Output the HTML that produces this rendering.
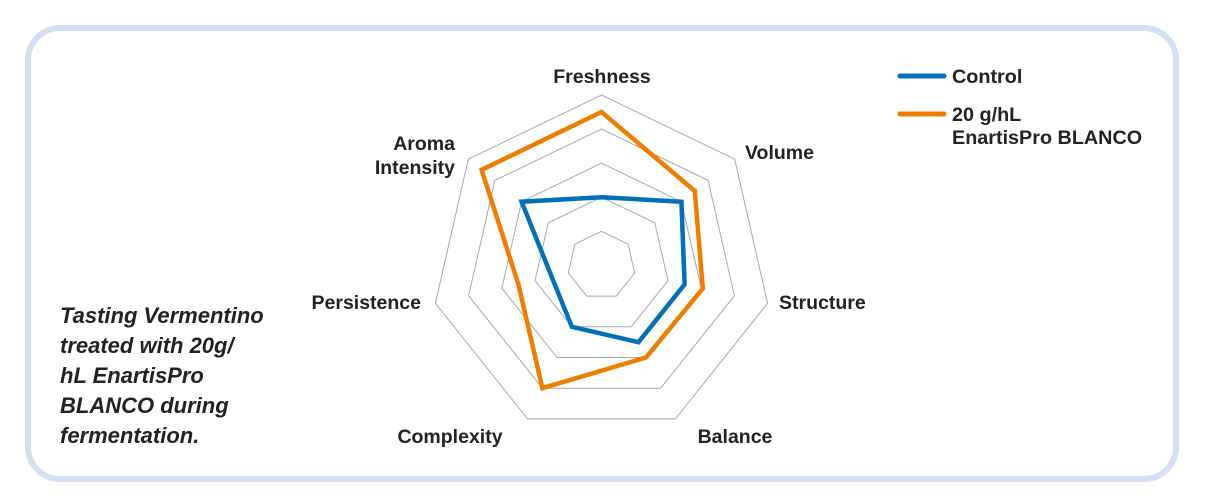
<!DOCTYPE html>
<html><head><style>
body{margin:0;background:#fff;width:1206px;height:501px;overflow:hidden}
svg{display:block}
text{font-family:"Liberation Sans",sans-serif;fill:#222;font-weight:600}
</style></head><body>
<svg width="1206" height="501" viewBox="0 0 1206 501">
<rect x="28" y="28" width="1148" height="451" rx="32" fill="#fff" stroke="#d3e0f2" stroke-width="6"/>
<g id="g"></g>
<g font-size="19.5">
<text x="602" y="83" text-anchor="middle">Freshness</text>
<text x="745" y="159">Volume</text>
<text x="779" y="309">Structure</text>
<text x="735" y="443" text-anchor="middle">Balance</text>
<text x="450" y="443" text-anchor="middle">Complexity</text>
<text x="421" y="309" text-anchor="end">Persistence</text>
<text x="455" y="150" text-anchor="end">Aroma</text>
<text x="455" y="174" text-anchor="end">Intensity</text>
</g>
<line x1="900" y1="76" x2="944" y2="76" stroke="#0070b8" stroke-width="5" stroke-linecap="round"/>
<line x1="900" y1="114" x2="944" y2="114" stroke="#ee7d00" stroke-width="5" stroke-linecap="round"/>
<g font-size="19.8">
<text x="952" y="83">Control</text>
<text x="952" y="121">20 g/hL</text>
<text x="952" y="144">EnartisPro BLANCO</text>
</g>
<g font-size="22" font-style="italic">
<text x="60" y="323">Tasting Vermentino</text>
<text x="60" y="353">treated with 20g/</text>
<text x="60" y="383">hL EnartisPro</text>
<text x="60" y="413">BLANCO during</text>
<text x="60" y="443">fermentation.</text>
</g>
</svg>
<script>
var cx=601.5,cy=265.4,R=170.4,g=document.getElementById('g'),ns='http://www.w3.org/2000/svg';
function pts(vals){return vals.map(function(v,k){var a=(-90+k*360/7)*Math.PI/180;var r=v/5*R;return (cx+r*Math.cos(a)).toFixed(1)+','+(cy+r*Math.sin(a)).toFixed(1)}).join(' ')}
for(var i=1;i<=5;i++){var p=document.createElementNS(ns,'polygon');p.setAttribute('points',pts([i,i,i,i,i,i,i]));p.setAttribute('fill','none');p.setAttribute('stroke','#a8a8a8');p.setAttribute('stroke-width','1');g.appendChild(p)}
[[ [2,3,2.5,2.5,2,1.5,3],'#0070b8'],[[4.5,3.5,3.05,3,4,2.5,4.5],'#ee7d00']].forEach(function(s){var p=document.createElementNS(ns,'polygon');p.setAttribute('points',pts(s[0]));p.setAttribute('fill','none');p.setAttribute('stroke',s[1]);p.setAttribute('stroke-width','4.5');p.setAttribute('stroke-linejoin','miter');g.appendChild(p)});
</script>
</body></html>
